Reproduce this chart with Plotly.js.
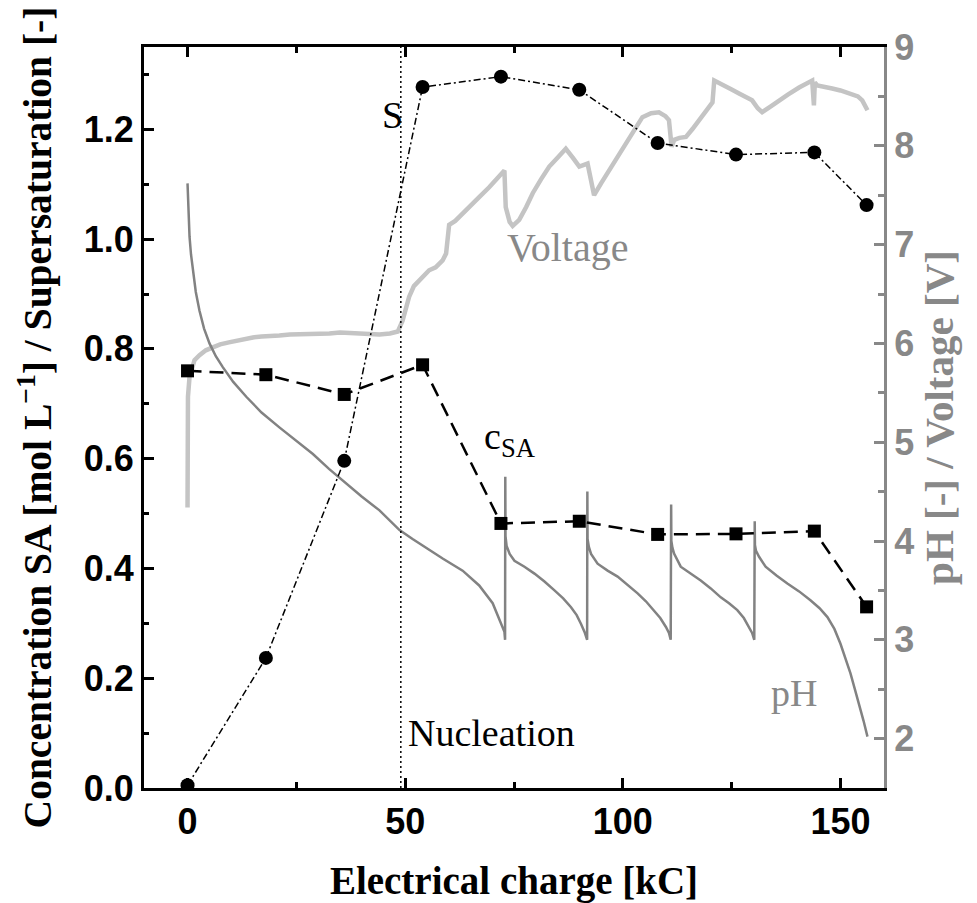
<!DOCTYPE html>
<html>
<head>
<meta charset="utf-8">
<script src="https://cdn.plot.ly/plotly-3.0.1.min.js"></script>
<style>html,body{margin:0;padding:0;background:#fff;}#chart{width:977px;height:903px;}</style>
</head>
<body>
<div id="chart"></div>
<script>
// Sampling points (electrical charge, kC)
const sampleCharge = [0, 18, 36, 54, 72, 90, 108, 126, 144, 156];
// Supersaturation S [-]
const supersaturation = [0.005, 0.237, 0.596, 1.277, 1.296, 1.272, 1.175, 1.154, 1.158, 1.062];
// Concentration SA [mol/L]
const concentrationSA = [0.760, 0.753, 0.717, 0.771, 0.482, 0.486, 0.462, 0.463, 0.468, 0.330];

// pH curve (right axis)
const phCharge = [0.0, 0.2, 0.46, 0.8, 1.2, 1.9, 2.75, 3.8, 5.05, 6.5, 8.1, 10.5, 13.5, 17, 21.1, 25, 28.8, 32.5, 36.4, 40, 44.1, 46.5, 48.7, 51.7, 55.5, 58.7, 63.2, 67.0, 70.1, 72.0, 72.8, 72.95,
  73.0, 73.05, 73.3, 74.0, 75.1, 77.4, 79.7, 82, 84.3, 86.3, 88.1, 89.4, 90.4, 91.2, 91.8,
  91.85, 91.9, 92.2, 92.7, 94.2, 96.5, 98.8, 101, 103.4, 105.3, 107.1, 108.6, 109.9, 110.6, 111.0,
  111.1, 111.15, 111.4, 111.8, 113.3, 115.6, 117.9, 120.2, 122.5, 124.4, 126.3, 127.8, 129.0, 129.7, 130.2,
  130.3, 130.35, 130.6, 131.3, 132.8, 135.3, 137.8, 140.5, 143.1, 145.2, 147.0, 148.6, 150.0, 151.2, 152.3, 153.3, 154.3, 155.3, 156.2];
const phValue = [7.62, 7.30, 7.08, 6.90, 6.74, 6.52, 6.33, 6.15, 6.00, 5.87, 5.76, 5.61, 5.46, 5.30, 5.15, 5.01, 4.88, 4.73, 4.58, 4.45, 4.31, 4.21, 4.11, 4.02, 3.91, 3.82, 3.70, 3.55, 3.37, 3.16, 3.08, 3.00,
  4.65, 4.05, 3.95, 3.87, 3.80, 3.74, 3.67, 3.59, 3.50, 3.42, 3.33, 3.25, 3.16, 3.08, 3.00,
  4.50, 4.02, 3.94, 3.87, 3.77, 3.70, 3.64, 3.56, 3.47, 3.39, 3.30, 3.22, 3.13, 3.07, 3.00,
  4.37, 4.00, 3.93, 3.87, 3.74, 3.67, 3.60, 3.52, 3.43, 3.37, 3.30, 3.22, 3.13, 3.07, 3.00,
  4.20, 3.96, 3.90, 3.84, 3.74, 3.65, 3.57, 3.49, 3.40, 3.32, 3.23, 3.11, 2.96, 2.81, 2.66, 2.50, 2.35, 2.18, 2.02];

// Voltage curve (right axis)
const voltCharge = [0.0, 0.02, 0.1, 0.46, 1.6, 2.75, 4.2, 5.8, 7.5, 9.5, 11.5, 13.4, 15, 17, 19, 21.1, 23.5, 26, 28, 30, 32.6, 35, 38, 41, 44.1, 46.5, 48.3,
  49.4, 50.9, 52.0, 53.2, 54.3, 55.5, 57.0, 58.6, 59.4, 59.8, 60.1, 61.5, 63.2, 65.0, 67.0, 69.3, 71.6, 72.8,
  73.1, 74.0, 74.7, 76.2, 77.8, 79.3, 81.2, 83.1, 85.0, 86.9, 88.5, 90.0, 91.9, 92.8, 93.4, 95.0, 96.9, 98.8, 100.7, 102.6, 104.5, 106.5, 108.3, 109.8, 110.6,
  111.2, 111.8, 113.0, 114.5, 116.0, 117.5, 119.0, 120.6, 121.0, 122.0, 123.6, 125.0, 126.7, 128.2, 129.7, 131.0, 132.0, 134.0, 135.9, 138.0, 140.5, 142.0, 143.5,
  143.9, 144.1, 144.7, 146.5, 148.1, 150.0, 152.0, 154.0, 155.0, 156.2];
const voltage = [4.34, 5.00, 5.46, 5.66, 5.83, 5.88, 5.93, 5.96, 5.99, 6.01, 6.03, 6.05, 6.06, 6.07, 6.08, 6.08, 6.09, 6.09, 6.10, 6.10, 6.10, 6.11, 6.10, 6.10, 6.09, 6.10, 6.12,
  6.23, 6.47, 6.58, 6.64, 6.69, 6.74, 6.77, 6.84, 6.91, 7.10, 7.20, 7.24, 7.31, 7.39, 7.48, 7.58, 7.70, 7.75,
  7.38, 7.23, 7.19, 7.25, 7.38, 7.52, 7.66, 7.79, 7.88, 7.97, 7.88, 7.79, 7.82, 7.62, 7.50, 7.62, 7.75, 7.88, 8.02, 8.16, 8.29, 8.33, 8.34, 8.30, 8.26,
  7.99, 8.06, 8.08, 8.09, 8.17, 8.26, 8.35, 8.44, 8.66, 8.64, 8.61, 8.57, 8.53, 8.50, 8.46, 8.38, 8.34, 8.40, 8.46, 8.52, 8.59, 8.63, 8.66,
  8.41, 8.64, 8.61, 8.60, 8.58, 8.56, 8.53, 8.50, 8.46, 8.36];

// Nucleation marker
const nucleationCharge = [49, 49];
const nucleationSpan = [0, 1.35];

const GRAY = '#888888';
const tickFont = {family: 'Liberation Sans, Arial, sans-serif', size: 36, weight: 700};
const titleFontFamily = 'Liberation Serif, Times New Roman, serif';

const traces = [
  {x: voltCharge, y: voltage, yaxis: 'y', type: 'scatter', mode: 'lines',
   line: {color: '#c4c4c4', width: 4.5}, hoverinfo: 'skip'},
  {x: phCharge, y: phValue, yaxis: 'y', type: 'scatter', mode: 'lines',
   line: {color: '#828282', width: 2.5}, hoverinfo: 'skip'},
  {x: nucleationCharge, y: nucleationSpan, yaxis: 'y2', type: 'scatter', mode: 'lines',
   line: {color: '#000', width: 1.5, dash: '2px,3px'}},
  {x: sampleCharge, y: supersaturation, yaxis: 'y2', type: 'scatter', mode: 'lines+markers',
   line: {color: '#000', width: 1.5, dash: '7px,3px,2px,3px'},
   marker: {symbol: 'circle', size: 14, color: '#000'}},
  {x: sampleCharge, y: concentrationSA, yaxis: 'y2', type: 'scatter', mode: 'lines+markers',
   line: {color: '#000', width: 2.5, dash: '14px,8px'},
   marker: {symbol: 'square', size: 13, color: '#000'}}
];

const annFont = (c) => ({family: titleFontFamily, size: 38, color: c});

const layout = {
  width: 977, height: 903,
  margin: {l: 144, r: 93, t: 47, b: 115, pad: 0},
  paper_bgcolor: '#fff', plot_bgcolor: '#fff',
  showlegend: false,
  xaxis: {
    range: [-10, 160], tickvals: [0, 50, 100, 150], ticktext: ['0', '50', '100', '150'],
    ticks: 'inside', ticklen: 10, tickwidth: 3, tickcolor: '#000',
    minor: {tickvals: [25, 75, 125], ticks: 'inside', ticklen: 6, tickwidth: 3, tickcolor: '#000'},
    showline: true, linewidth: 3, linecolor: '#000', mirror: 'ticks',
    showgrid: false, zeroline: false,
    tickfont: Object.assign({color: '#000'}, tickFont),
    title: {text: 'Electrical charge [kC]', standoff: 28,
            font: {family: titleFontFamily, size: 39, weight: 700, color: '#000'}}
  },
  yaxis: {
    side: 'right', range: [1.5, 9], dtick: 1, tick0: 0,
    ticks: 'inside', ticklen: 10, tickwidth: 3, tickcolor: GRAY,
    minor: {dtick: 0.5, ticks: 'inside', ticklen: 6, tickwidth: 3, tickcolor: GRAY},
    showline: true, linewidth: 3, linecolor: GRAY,
    showgrid: false, zeroline: false,
    tickfont: Object.assign({color: GRAY}, tickFont),
    title: {text: 'pH [-] / Voltage [V]', standoff: 12,
            font: {family: titleFontFamily, size: 41, weight: 700, color: GRAY}}
  },
  yaxis2: {
    overlaying: 'y', side: 'left', range: [0, 1.35], dtick: 0.2, tick0: 0, tickformat: '.1f',
    ticks: 'inside', ticklen: 10, tickwidth: 3, tickcolor: '#000',
    minor: {dtick: 0.1, ticks: 'inside', ticklen: 5, tickwidth: 3, tickcolor: '#000'},
    showline: true, linewidth: 3, linecolor: '#000',
    showgrid: false, zeroline: false,
    tickfont: Object.assign({color: '#000'}, tickFont),
    title: {text: 'Concentration SA [mol L<sup>−1</sup>] / Supersaturation [-]', standoff: 20,
            font: {family: titleFontFamily, size: 39.5, weight: 700, color: '#000'}}
  },
  annotations: [
    {x: 47.0, y: 1.226, xref: 'x', yref: 'y2', text: 'S', showarrow: false,
     xanchor: 'center', yanchor: 'middle', font: annFont('#000')},
    {x: 73.0, y: 0.985, xref: 'x', yref: 'y2', text: 'Voltage', showarrow: false,
     xanchor: 'left', yanchor: 'middle', font: {family: titleFontFamily, size: 40, color: GRAY}},
    {x: 67.7, y: 0.635, xref: 'x', yref: 'y2', text: 'c<sub>SA</sub>', showarrow: false,
     xanchor: 'left', yanchor: 'middle', font: annFont('#000')},
    {x: 50.2, y: 0.1005, xref: 'x', yref: 'y2', text: 'Nucleation', showarrow: false,
     xanchor: 'left', yanchor: 'middle', font: annFont('#000')},
    {x: 133.5, y: 0.1725, xref: 'x', yref: 'y2', text: 'pH', showarrow: false,
     xanchor: 'left', yanchor: 'middle', font: annFont(GRAY)}
  ]
};

Plotly.newPlot('chart', traces, layout, {displayModeBar: false, staticPlot: true});
</script>
</body>
</html>
